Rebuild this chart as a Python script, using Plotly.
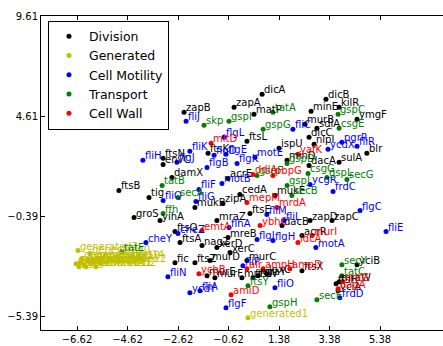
import plotly.graph_objects as go

# ---------------- data ----------------
div_names = ["dicA","zapA","zapB","matP","minE","dicB","kilR","ymgF","murB","sdiA",
             "dicC","nlpI","ftsL","ispU","blr","minD","sulA","dacA","ftsN","envC",
             "damX","acrE","ftsB","tig","cedA","mukE","mukB","zipA","ftsE","groS",
             "yihA","dacB","zapD","zapC","acrR","ftsQ","ftsA","nagZ","xerD","xerC",
             "mraZ","mreB","fic","ftsZ","murD","murC","murE","murF","murG","ftsW",
             "mraY","lpxC","ftsX","yciB","ftsH","mraW","yciA","ftsK"]
div_x = [0.71,-0.40,-2.38,0.39,2.65,3.24,3.76,4.47,2.41,2.88,
         2.57,2.77,0.11,1.38,4.86,1.70,3.76,2.57,-3.21,-3.21,
         -2.86,-0.64,-4.96,-3.77,-0.17,1.22,-1.95,-0.84,0.23,-4.36,
         -3.33,1.50,2.61,3.48,2.29,-2.74,-2.54,-1.67,-1.08,-0.56,
         -1.08,-0.64,-2.74,-1.95,-1.35,0.11,-1.47,-1.16,-0.09,0.35,
         0.55,0.90,2.29,4.47,3.64,3.76,3.72,-1.43]
div_y = [5.71,5.06,4.81,4.71,4.86,5.46,5.06,4.46,4.21,4.01,
         3.56,3.21,3.36,3.01,2.76,2.41,2.31,2.16,2.51,2.21,
         1.56,1.51,0.91,0.56,0.71,0.66,0.06,0.26,-0.24,-0.44,
         -0.59,-0.84,-0.59,-0.59,-1.34,-1.14,-1.69,-1.84,-1.94,-2.19,
         -0.59,-1.44,-2.69,-2.69,-2.59,-2.59,-3.34,-3.44,-3.44,-3.44,
         -3.34,-3.24,-3.09,-2.79,-3.74,-3.64,-4.09,2.76]

gen_names = ["generated%d" % i for i in range(15)]
gen_x = [-6.11,0.15,-5.87,-6.58,-6.50,-6.34,-6.18,-6.03,-6.66,-6.42,-5.95,-6.26,-5.71,-6.54,-5.79]
gen_y = [-2.24,-5.44,-2.89,-2.09,-2.69,-2.79,-2.59,-2.69,-2.74,-2.49,-2.54,-2.89,-2.69,-2.89,-2.49]

mot_names = ["fliJ","fliC","flgL","fliK","flgD","flgE","fliH","flgJ","flgB","flgK",
             "motB","fliF","fliG","fliQ","fliM","fliL","flgI","flgH","cheZ","cheY",
             "flhA","fliN","ycdY","fliA","fliO","flgF","fliE","flgC","frdC","ycgR",
             "ycdX","pgrR","fliR","motA","frdD","fliP","motE"]
mot_x = [-2.30,1.93,-0.80,-2.15,-1.19,-0.72,-4.01,-2.66,-1.47,-0.28,
         -0.88,-1.79,-1.91,-3.21,0.90,1.58,0.51,1.14,-2.62,-3.89,
         -0.60,-3.02,-2.15,-1.75,1.22,-0.72,5.62,4.59,3.52,2.61,
         3.32,3.87,4.47,2.84,3.79,-0.05,0.43]
mot_y = [4.36,3.96,3.56,2.86,2.66,2.71,2.41,2.31,2.06,2.26,
         1.26,0.96,0.36,0.41,-0.29,-0.59,-1.54,-1.59,-1.24,-1.69,
         -0.94,-3.39,-4.19,-4.09,-3.94,-4.94,-1.14,-0.09,0.86,1.21,
         2.96,3.31,3.11,-1.94,-4.44,-2.84,2.56]

tra_names = ["tatA","skp","gspI","gspG","gspC","csgE","gspD","gspF","csgG","gspL",
             "secG","gspJ","secB","tatB","secA","ffh","gspH","ftsY","secY","tatC",
             "secE","tatE"]
tra_x = [1.14,-1.59,-0.60,0.75,3.72,3.76,1.70,0.51,2.53,3.28,
         4.07,1.70,1.89,-3.25,-2.62,-3.21,1.02,0.15,3.87,3.87,
         2.88,-4.84]
tra_y = [4.81,4.16,4.36,3.96,4.71,4.01,2.26,1.66,1.76,1.56,
         1.46,1.16,0.66,1.16,0.56,-0.24,-4.89,-3.84,-2.79,-3.34,
         -4.54,-2.14]

wall_names = ["mltD","yafK","ddlA","pbpG","mepM","mrdA","emtA","ybhC","murI","ldcA",
              "alr","ampH","ampD","amiD","ycbB","mltG","nagA"]
wall_x = [-1.31,2.13,0.35,1.14,0.11,1.30,-1.67,0.63,2.69,2.13,
          0.11,0.75,1.81,-0.52,-1.79,3.91,3.72]
wall_y = [3.26,2.71,1.71,1.66,0.31,0.06,-1.09,-0.84,-1.34,-1.69,
          -2.99,-2.99,-2.99,-4.29,-3.24,-3.64,-3.99]

x_ticks = [-6.62, -4.62, -2.62, -0.62, 1.38, 3.38, 5.38]
y_ticks = [9.61, 4.61, -0.39, -5.39]
x_range = [-8.046, 7.875]
y_range = [-6.05, 9.61]

series = [
    ("Division", div_names, div_x, div_y, "#000000"),
    ("Generated", gen_names, gen_x, gen_y, "#bfbf00"),
    ("Cell Motility", mot_names, mot_x, mot_y, "#0000ff"),
    ("Transport", tra_names, tra_x, tra_y, "#008000"),
    ("Cell Wall", wall_names, wall_x, wall_y, "#ff0000"),
]

FONT = "DejaVu Sans"

fig = go.Figure()
annotations = []
for name, labels, xs, ys, col in series:
    fig.add_trace(go.Scatter(
        x=xs, y=ys, name=name, mode="markers",
        marker=dict(color=col, size=5, line=dict(width=0)),
        cliponaxis=False,
    ))
    for lab, xv, yv in zip(labels, xs, ys):
        annotations.append(dict(
            x=xv, y=yv, xref="x", yref="y", text=lab, showarrow=False,
            xanchor="left", yanchor="bottom", xshift=0, yshift=-3,
            font=dict(family=FONT, size=10, color=col),
        ))

def fmt(v):
    return ("%.2f" % v).replace("-", "\u2212")

axis_common = dict(
    showline=True, linecolor="black", linewidth=1,
    ticks="inside", ticklen=4, tickcolor="black", tickwidth=1,
    showgrid=False, zeroline=False,
    tickfont=dict(family=FONT, size=10, color="black"),
)

fig.update_layout(
    width=443, height=346,
    margin=dict(l=41, r=0, t=16, b=16),
    plot_bgcolor="white", paper_bgcolor="white",
    font=dict(family=FONT),
    annotations=annotations,
    xaxis=dict(range=x_range, tickvals=x_ticks, ticktext=[fmt(v) for v in x_ticks],
               mirror="ticks", **axis_common),
    yaxis=dict(range=y_range, tickvals=y_ticks, ticktext=[fmt(v) for v in y_ticks],
               mirror=False, **axis_common),
    legend=dict(
        x=0.0174, y=0.985, xanchor="left", yanchor="top",
        bgcolor="white", bordercolor="black", borderwidth=1,
        font=dict(family=FONT, size=12.5, color="black"),
        itemsizing="trace",
    ),
)

fig.write_html("out.html")
